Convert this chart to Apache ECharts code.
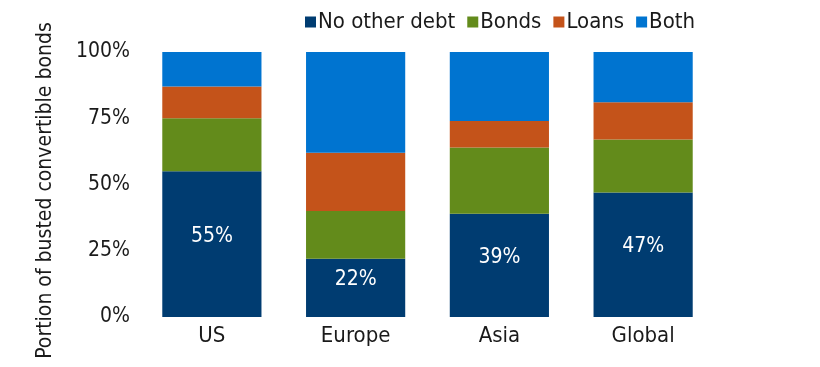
<!DOCTYPE html>
<html>
<head>
<meta charset="utf-8">
<script src="https://cdn.jsdelivr.net/npm/echarts@6/dist/echarts.min.js"></script>
<style>
    html, body { margin: 0; padding: 0; background: #fff; }
    #chart { width: 820px; height: 367px; }
</style>
</head>
<body>
<div id="chart"></div>
<script>
// data (percent of busted convertible bonds)
var categories = ['US', 'Europe', 'Asia', 'Global'];
var noOtherDebt = [55, 22, 39, 47];
var bonds = [20, 18, 25, 20];
var loans = [12, 22, 10, 14];
var both = [13, 38, 26, 19];
var yTicks = ['0%', '25%', '50%', '75%', '100%'];

var FONT = '"Liberation Sans Narrow", "DejaVu Sans Condensed", sans-serif';

var chart = echarts.init(document.getElementById('chart'));

function seg(name, data, color, withLabel) {
    var s = {
        name: name,
        type: 'bar',
        stack: 'total',
        barCategoryGap: '31%',
        data: data,
        itemStyle: { color: color },
        emphasis: { disabled: true }
    };
    if (withLabel) {
        s.label = {
            show: true,
            position: 'inside',
            offset: [0, -8],
            color: '#fff',
            fontFamily: FONT,
            fontSize: 21,
            formatter: '{c}%'
        };
    }
    return s;
}

var option = {
    animation: false,
    textStyle: { fontFamily: FONT },
    legend: {
        top: 6,
        left: 300,
        itemWidth: 11,
        itemHeight: 11,
        itemGap: 12,
        icon: 'rect',
        textStyle: { fontFamily: FONT, fontSize: 22, color: '#1a1a1a', padding: [0, 0, 0, -3] },
        data: ['No other debt', 'Bonds', 'Loans', 'Both']
    },
    grid: {
        left: 140,
        right: 105,
        top: 52,
        bottom: 50
    },
    xAxis: {
        type: 'category',
        data: categories,
        axisLine: { show: false },
        axisTick: { show: false },
        axisLabel: { fontFamily: FONT, fontSize: 22, color: '#1a1a1a', margin: 8 }
    },
    yAxis: {
        type: 'value',
        min: 0,
        max: 100,
        interval: 25,
        name: 'Portion of busted convertible bonds',
        nameLocation: 'middle',
        nameGap: 84,
        nameTextStyle: { fontFamily: FONT, fontSize: 21, color: '#1a1a1a', padding: [0, 12, 0, 0] },
        splitLine: { show: false },
        axisLine: { show: false },
        axisTick: { show: false },
        axisLabel: {
            fontFamily: FONT,
            fontSize: 21,
            color: '#1a1a1a',
            margin: 10,
            formatter: function (v) { return yTicks[v / 25]; }
        }
    },
    series: [
        seg('No other debt', noOtherDebt, '#003c71', true),
        seg('Bonds', bonds, '#638b1b', false),
        seg('Loans', loans, '#c4531a', false),
        seg('Both', both, '#0074d0', false)
    ]
};

chart.setOption(option);
</script>
</body>
</html>
